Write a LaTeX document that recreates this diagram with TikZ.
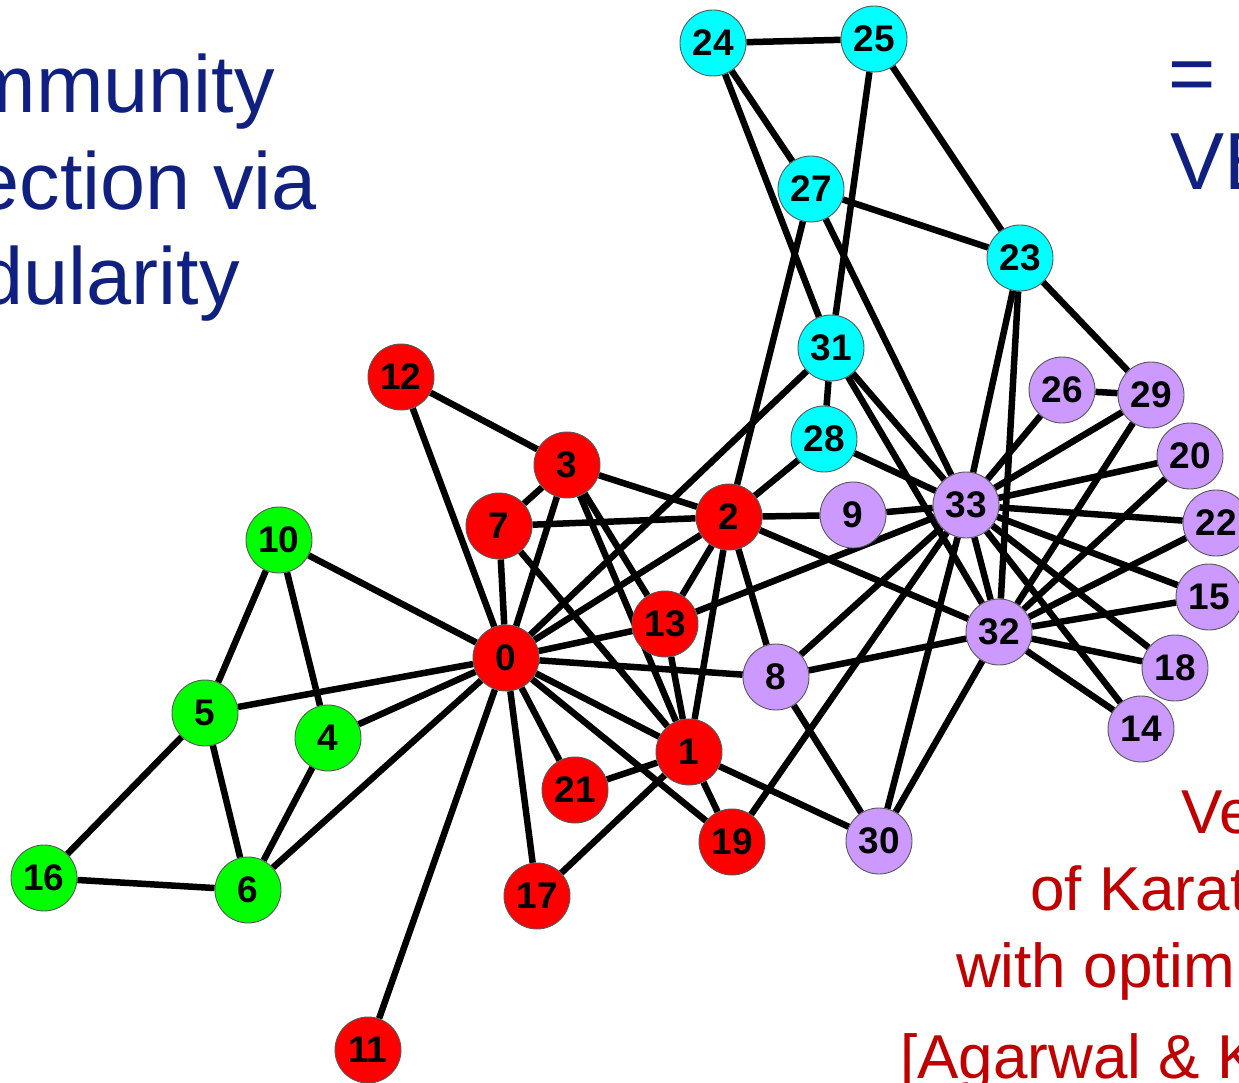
\documentclass[tikz,border=0pt]{standalone}
\usepackage{fontspec}
\setmainfont{Liberation Sans}
\usetikzlibrary{backgrounds}

\definecolor{navy}{RGB}{16,32,128}
\definecolor{notered}{RGB}{192,0,0}
\definecolor{vred}{RGB}{255,0,0}
\definecolor{vgreen}{RGB}{0,255,0}
\definecolor{vcyan}{RGB}{0,255,255}
\definecolor{vlav}{RGB}{204,153,255}

\tikzset{
  vtx/.style={circle, draw=black!65, line width=0.9pt, minimum size=66pt,
    inner sep=0pt, font=\fontsize{37}{37}\selectfont\bfseries},
  rv/.style={vtx, fill=vred},
  gv/.style={vtx, fill=vgreen},
  cv/.style={vtx, fill=vcyan},
  pv/.style={vtx, fill=vlav},
  link/.style={line width=6.5pt, black},
  headline/.style={text=navy, inner sep=0pt, font=\fontsize{81}{90}\selectfont},
  caption/.style={text=notered, inner sep=0pt, font=\fontsize{62}{70}\selectfont}
}

\begin{document}
\begin{tikzpicture}[x=1pt, y=-1pt]
\useasboundingbox (0,0) rectangle (1239,1083);
\clip (0,0) rectangle (1239,1083);

% title text
\node[headline, anchor=base east] (t1) at (275,113) {mmunity};
\node[headline, anchor=base east] (t2) at (317,210) {ection via};
\node[headline, anchor=base east] (t3) at (240,305) {dularity};
\node[headline, anchor=base west] (t4) at (1168,102) {=};
\node[headline, anchor=base west] (t5) at (1170,190) {VE};

% caption text
\node[caption, anchor=base west] (c1) at (1181,833) {Ve};
\node[caption, anchor=base west] (c2) at (1030,910) {of Karat};
\node[caption, anchor=base west] (c3) at (956,987) {with optim};
\node[caption, anchor=base west] (c4) at (900,1078) {[Agarwal \& K};

% vertices
\node[rv] (n0)  at (506,658) {0};
\node[rv] (n1)  at (689,752) {1};
\node[rv] (n2)  at (729,517) {2};
\node[rv] (n3)  at (567,465) {3};
\node[gv] (n4)  at (328,738) {4};
\node[gv] (n5)  at (205,713) {5};
\node[gv] (n6)  at (248,890) {6};
\node[rv] (n7)  at (499,526) {7};
\node[pv] (n8)  at (776,677) {8};
\node[pv] (n9)  at (853,515) {9};
\node[gv] (n10) at (279,540) {10};
\node[rv] (n11) at (368,1050) {11};
\node[rv] (n12) at (401,377) {12};
\node[rv] (n13) at (665,624) {13};
\node[pv] (n14) at (1141,729) {14};
\node[pv] (n15) at (1209,597) {15};
\node[gv] (n16) at (44,878) {16};
\node[rv] (n17) at (537,896) {17};
\node[pv] (n18) at (1175,668) {18};
\node[rv] (n19) at (732,842) {19};
\node[pv] (n20) at (1190,456) {20};
\node[rv] (n21) at (575,790) {21};
\node[pv] (n22) at (1216,523) {22};
\node[cv] (n23) at (1020,258) {23};
\node[cv] (n24) at (713,43) {24};
\node[cv] (n25) at (874,39) {25};
\node[pv] (n26) at (1062,390) {26};
\node[cv] (n27) at (811,189) {27};
\node[cv] (n28) at (824,439) {28};
\node[pv] (n29) at (1151,395) {29};
\node[pv] (n30) at (879,841) {30};
\node[cv] (n31) at (831,348) {31};
\node[pv] (n32) at (999,632) {32};
\node[pv] (n33) at (966,505) {33};

% edges
\begin{scope}[on background layer]
\foreach \a/\b in {0/1,0/2,0/3,0/4,0/5,0/6,0/7,0/8,0/10,0/11,0/12,0/13,0/17,0/19,0/21,0/31,
  1/2,1/3,1/7,1/13,1/17,1/19,1/21,1/30,
  2/3,2/7,2/8,2/9,2/13,2/27,2/28,2/32,
  3/7,3/12,3/13,
  4/6,4/10,
  5/6,5/10,5/16,
  6/16,
  8/30,8/32,8/33,
  9/33,
  13/33,
  14/32,14/33,
  15/32,15/33,
  18/32,18/33,
  19/33,
  20/32,20/33,
  22/32,22/33,
  23/25,23/27,23/29,23/32,23/33,
  24/25,24/27,24/31,
  25/31,
  26/29,26/33,
  27/33,
  28/31,28/33,
  29/32,29/33,
  30/32,30/33,
  31/32,31/33,
  32/33}
  \draw[link] (n\a) -- (n\b);
\end{scope}
\end{tikzpicture}
\end{document}
